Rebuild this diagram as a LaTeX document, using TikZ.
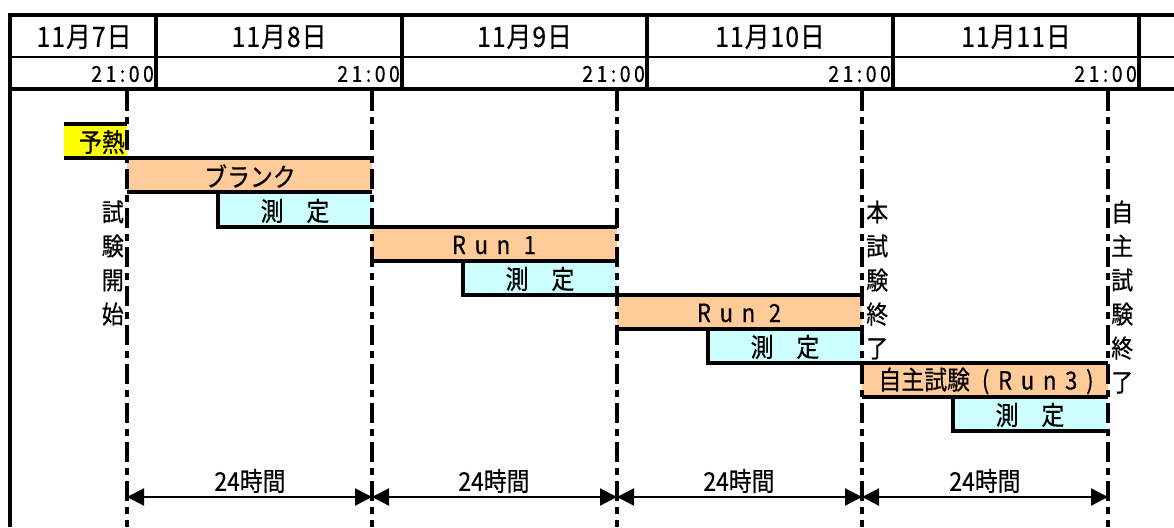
\documentclass[tikz,border=0pt]{standalone}
\usepackage{fontspec}
\setmainfont{Noto Sans CJK JP}[FakeBold=0.5,FakeStretch=0.88]
\newfontfamily\spacedfont[LetterSpace=35,FakeBold=0.5,FakeStretch=0.88]{Noto Sans CJK JP}
\newfontfamily\timefont[LetterSpace=16,FakeBold=0.5,FakeStretch=0.88]{Noto Sans CJK JP}
\newfontfamily\datefont[LetterSpace=4,FakeBold=0.5,FakeStretch=0.88]{Noto Sans CJK JP}
\usetikzlibrary{arrows.meta}
\definecolor{barorange}{HTML}{FFCC99}
\definecolor{barcyan}{HTML}{CCFFFF}
\definecolor{heatyellow}{HTML}{FFFF00}
\begin{document}
\begin{tikzpicture}[x=1pt,y=-1pt,
  thickline/.style={line width=3.2pt},
  thinline/.style={line width=1.2pt},
  barline/.style={line width=3.2pt},
  dashline/.style={line width=3.2pt, dash pattern=on 20pt off 6pt on 7pt off 6pt},
  dimarrow/.style={line width=2.2pt, {Triangle[length=17pt,width=17pt]}-{Triangle[length=17pt,width=17pt]}},
  datelabel/.style={font=\datefont\fontsize{28}{30}\selectfont, inner sep=0pt},
  timelabel/.style={font=\timefont\fontsize{22}{24}\selectfont, inner sep=0pt, anchor=east},
  bartext/.style={font=\fontsize{26}{28}\selectfont, inner sep=0pt},
  runtext/.style={font=\spacedfont\fontsize{25}{28}\selectfont, inner sep=0pt},
  vlabel/.style={font=\fontsize{25}{34}\selectfont, inner sep=0pt},
  durlabel/.style={font=\fontsize{26}{28}\selectfont, inner sep=0pt}
]
\useasboundingbox (0,0) rectangle (1174,527);

% ---- bar fills ----
\fill[heatyellow] (64,124) rectangle (127,158);
\fill[barorange] (127,158) rectangle (372,192);
\fill[barcyan] (218,192) rectangle (372,227);
\fill[barorange] (372,227) rectangle (617,261);
\fill[barcyan] (463,261) rectangle (617,295);
\fill[barorange] (617,295) rectangle (862,329);
\fill[barcyan] (708,329) rectangle (862,363);
\fill[barorange] (862,363) rectangle (1108,397);
\fill[barcyan] (953,397) rectangle (1108,431);

% ---- header table ----
\draw[thickline] (1174,15) -- (10,15) -- (10,527);
\draw[thinline] (10,57) -- (1174,57);
\draw[thickline] (10,89) -- (1174,89);
\foreach \x in {156,402,647,893,1139} \draw[thickline] (\x,15) -- (\x,89);

\node[datelabel] (d7) at (84,37) {11月7日};
\node[datelabel] (d8) at (279,37) {11月8日};
\node[datelabel] (d9) at (524.5,37) {11月9日};
\node[datelabel] (d10) at (770,37) {11月10日};
\node[datelabel] (d11) at (1016,37) {11月11日};

\node[timelabel] (t1) at (154,74) {21:00};
\node[timelabel] (t2) at (400,74) {21:00};
\node[timelabel] (t3) at (645,74) {21:00};
\node[timelabel] (t4) at (891,74) {21:00};
\node[timelabel] (t5) at (1137,74) {21:00};

% ---- dashed time lines ----
\foreach \x in {127,372,617,862,1108} \draw[dashline] (\x,91) -- (\x,527);

% ---- bar borders ----
\draw[barline] (64,124) -- (127,124);
\draw[barline] (64,158) -- (372,158);
\draw[barline] (127,192) -- (372,192);
\draw[barline] (218,192) -- (218,227) -- (617,227);
\draw[barline] (372,261) -- (617,261);
\draw[barline] (463,261) -- (463,295) -- (862,295);
\draw[barline] (617,329) -- (862,329);
\draw[barline] (708,329) -- (708,363) -- (1108,363);
\draw[barline] (862,397) -- (1108,397);
\draw[barline] (953,397) -- (953,431) -- (1108,431);

% ---- bar texts ----
\node[bartext, anchor=east] (preheat) at (125,142) {予熱};
\node[bartext] (blank) at (250,176) {ブランク};
\node[bartext] (m1) at (295,211) {測　定};
\node[runtext] (run1) at (494,245) {Run 1};
\node[bartext] (m2) at (540,279) {測　定};
\node[runtext] (run2) at (739,313) {Run 2};
\node[bartext] (m3) at (785,347) {測　定};
\node[bartext] (run3) at (986,381) {自主試験\kern12pt{\spacedfont\fontsize{25}{28}\selectfont(Run3)}};
\node[bartext] (m4) at (1030,415) {測　定};

% ---- vertical labels ----
\node[vlabel, anchor=east, align=right] (start) at (124,263) {試\\験\\開\\始};
\node[vlabel, anchor=west, align=left] (mainend) at (866,280) {本\\試\\験\\終\\了};
\node[vlabel, anchor=west, align=left] (ownend) at (1111,297) {自\\主\\試\\験\\終\\了};

% ---- duration arrows ----
\coordinate (a1) at (127,497);
\coordinate (a2) at (372,497);
\coordinate (a3) at (617,497);
\coordinate (a4) at (862,497);
\coordinate (a5) at (1108,497);
\draw[dimarrow] (a1) -- (a2);
\draw[dimarrow] (a2) -- (a3);
\draw[dimarrow] (a3) -- (a4);
\draw[dimarrow] (a4) -- (a5);
\node[durlabel] (h1) at (250,481) {24時間};
\node[durlabel] (h2) at (494,481) {24時間};
\node[durlabel] (h3) at (739,481) {24時間};
\node[durlabel] (h4) at (985,481) {24時間};
\end{tikzpicture}
\end{document}
